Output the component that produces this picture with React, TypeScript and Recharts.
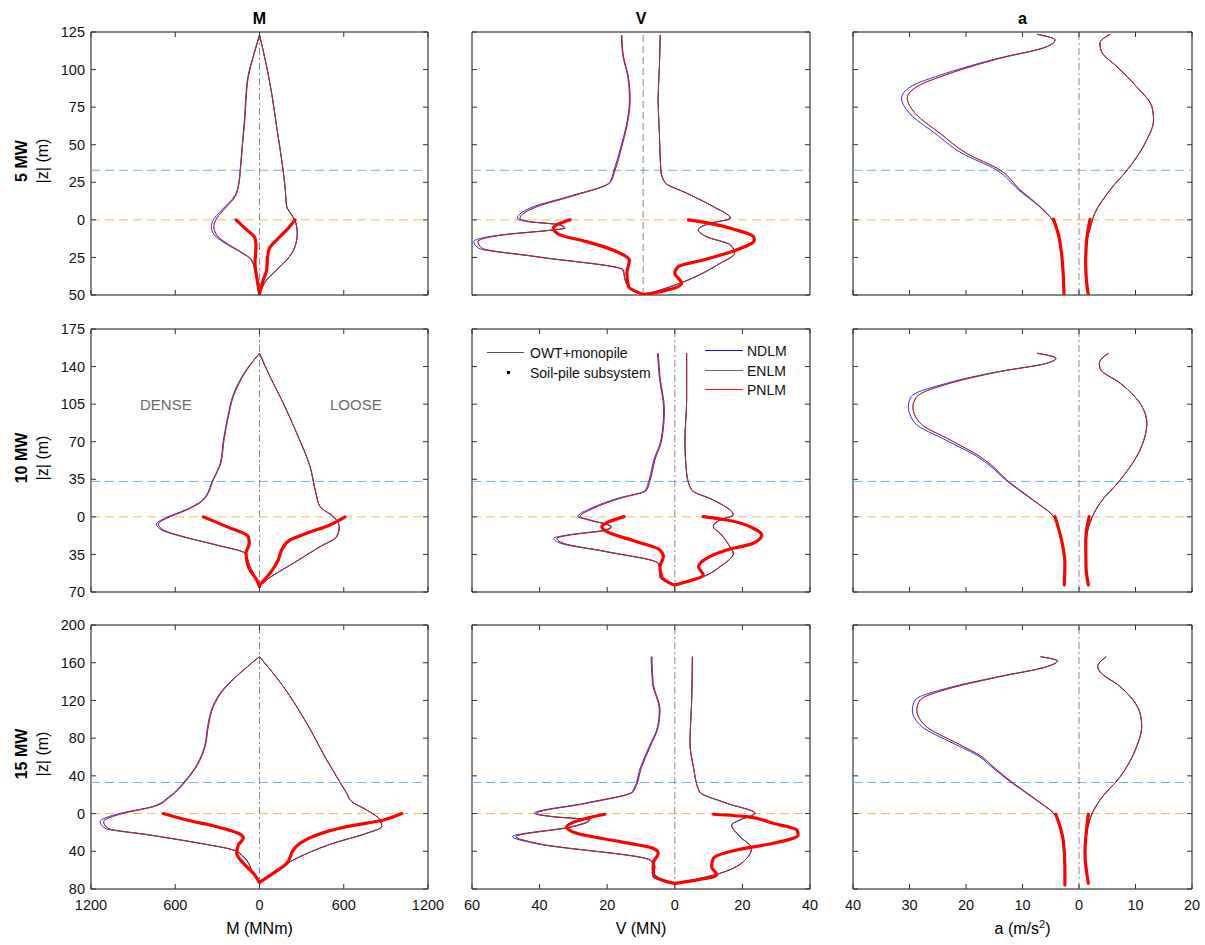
import React from "react";
import {
  ReferenceArea,
  ReferenceLine,
  Scatter,
  ScatterChart,
  XAxis,
  YAxis,
} from "recharts";

// Each profile is a list of [z (m), value] pairs, top of tower down to pile tip.
type Pt = [number, number];

// ---------- bending moment M (MNm) ----------
const m5Left: Pt[] = [[123, 0], [108.6, -44], [95.3, -80], [79.8, -96], [68.7, -103], [51, -120], [35.4, -134], [22, -151], [15.4, -174], [8.8, -234], [1, -305], [-4.5, -325], [-10, -306], [-15.6, -234], [-21, -139], [-26.7, -56], [-35, -30], [-43, -10], [-49, 0]];
const m5LeftN: Pt[] = [[123, 0], [108.6, -46], [95.3, -83], [79.8, -99], [68.7, -106], [51, -122], [35.4, -136], [22, -153], [15.4, -180], [8.8, -245], [1, -322], [-4.5, -343], [-10, -322], [-15.6, -244], [-21, -145], [-26.7, -58], [-35, -30], [-43, -10], [-49, 0]];
const m5Right: Pt[] = [[123, 0], [102, 51], [84, 87], [62, 122], [39.9, 158], [22, 182], [8.8, 194], [3.3, 229], [-2.3, 260], [-9, 269], [-17.8, 253], [-26.7, 194], [-33.3, 122], [-40, 51], [-48.6, 4]];
const m5SoilL: Pt[] = [[0, -167], [-6.7, -91], [-12.2, -32], [-17.8, -25], [-28.9, -32], [-37.8, -20], [-49, 0]];
const m5SoilR: Pt[] = [[0, 253], [-6.7, 194], [-13.4, 122], [-19, 70], [-24.5, 58], [-33.3, 51], [-40, 27], [-49, 0]];

const m10Left: Pt[] = [[152.4, 0], [136.8, -91], [112, -187], [93.3, -222], [71.6, -253], [49.9, -276], [34.4, -329], [15.7, -400], [6.4, -519], [-1.3, -661], [-6.6, -721], [-12.2, -685], [-18.4, -543], [-26.2, -305], [-33.9, -103], [-46.4, -68], [-58.8, -20], [-65, 0]];
const m10LeftN: Pt[] = [[152.4, 0], [136.8, -95], [112, -192], [93.3, -226], [71.6, -257], [49.9, -280], [34.4, -333], [15.7, -406], [6.4, -530], [-1.3, -675], [-6.6, -734], [-12.2, -698], [-18.4, -552], [-26.2, -310], [-33.9, -105], [-46.4, -68], [-58.8, -20], [-65, 0]];
const m10Right: Pt[] = [[152.4, 0], [130.6, 75], [105.8, 170], [77.9, 265], [46.8, 360], [22, 402], [9.5, 431], [0.2, 526], [-9.1, 568], [-18.4, 550], [-27.8, 431], [-43.2, 241], [-58.8, 51], [-65, 0]];
const m10SoilL: Pt[] = [[0, -400], [-9.1, -234], [-18.4, -80], [-24.6, -73], [-33.9, -96], [-46.4, -80], [-58.8, -20], [-65, 0]];
const m10SoilR: Pt[] = [[0, 609], [-7.5, 502], [-15.3, 336], [-21.5, 217], [-30.8, 158], [-40.1, 134], [-52.5, 75], [-63.4, 0]];

const m15Left: Pt[] = [[166.4, 0], [148.8, -139], [131.1, -258], [113.4, -329], [92.2, -365], [71, -388], [53.3, -436], [35.6, -519], [17.9, -637], [7.3, -756], [0.3, -970], [-8.6, -1110], [-15.6, -1080], [-22.7, -780], [-31.5, -424], [-38.6, -187], [-45.7, -115], [-63.3, -44], [-72.2, 0]];
const m15LeftN: Pt[] = [[166.4, 0], [148.8, -142], [131.1, -263], [113.4, -334], [92.2, -370], [71, -392], [53.3, -441], [35.6, -525], [17.9, -645], [7.3, -766], [0.3, -990], [-8.6, -1135], [-15.6, -1100], [-22.7, -790], [-31.5, -428], [-38.6, -188], [-45.7, -115], [-63.3, -44], [-72.2, 0]];
const m15Right: Pt[] = [[166.4, 0], [134.6, 170], [95.8, 336], [56.8, 479], [21.5, 621], [12.6, 657], [3.8, 763], [-6.8, 858], [-13.9, 870], [-20.9, 763], [-31.5, 526], [-45.7, 288], [-59.8, 122], [-72.2, 0]];
const m15SoilL: Pt[] = [[0, -685], [-6.8, -519], [-13.9, -305], [-20.9, -151], [-26.2, -115], [-33.3, -151], [-42.1, -162], [-52.7, -115], [-63.3, -44], [-73, 0]];
const m15SoilR: Pt[] = [[0, 1013], [-6.8, 882], [-13.9, 621], [-22.7, 407], [-31.5, 288], [-38.6, 241], [-52.7, 194], [-63.3, 98], [-73, 0]];

// ---------- shear force V (MN) ----------
const v5Left: Pt[] = [[123, -2.5], [108.6, -2.3], [95.3, -1.73], [79.8, -1.53], [62, -1.92], [48.7, -2.5], [33.2, -3.28], [24.8, -3.87], [15.4, -8.54], [8.8, -12.4], [1, -14.4], [-1.2, -13.2], [-3.4, -9.7], [-5.6, -9.3], [-6.7, -10.5], [-10, -16.3], [-14.5, -19.3], [-18.9, -18.8], [-24.5, -12.4], [-33.3, -2.3], [-40, -2.1], [-44.4, -1.7], [-49.8, 0]];
const v5LeftN: Pt[] = [[123, -2.55], [108.6, -2.35], [95.3, -1.8], [79.8, -1.6], [62, -2], [48.7, -2.6], [33.2, -3.4], [24.8, -3.95], [15.4, -8.8], [8.8, -12.8], [1, -14.7], [-1.2, -13.5], [-3.4, -9.6], [-5.6, -9.1], [-6.7, -10.6], [-10, -16.6], [-14.5, -19.8], [-18.9, -19.2], [-24.5, -12.6], [-33.3, -2.4], [-40, -2.1], [-44.4, -1.7], [-49.8, 0]];
const v5Right: Pt[] = [[123, 2], [102, 1.9], [79.8, 1.75], [57.6, 1.9], [33.2, 2.06], [24.8, 2.56], [17.7, 5.1], [8.8, 8.2], [1, 10.2], [-2.3, 7.8], [-6.7, 6.45], [-11.2, 7.4], [-16.7, 10.2], [-22.2, 10.7], [-28.9, 9], [-42.2, 4.3], [-49.8, 0.3]];
const v5SoilL: Pt[] = [[0, -8.54], [-5.6, -10.5], [-10, -9.7], [-14.5, -6.6], [-22.2, -2.7], [-26.7, -1.6], [-35.5, -1.9], [-44.4, -1.7], [-48.8, -0.4], [-49.8, 0]];
const v5SoilR: Pt[] = [[0, 5.3], [-2.3, 7.8], [-6.7, 10.9], [-11.2, 12.9], [-13.4, 13], [-20, 10.9], [-26.7, 7], [-31.1, 4.1], [-35.5, 3.7], [-42.2, 4.5], [-47.8, 2], [-49.8, 0]];

const v10Left: Pt[] = [[152.4, -4.9], [130.6, -4.4], [99.6, -3.1], [71.6, -3.9], [53, -5.9], [34.4, -7.3], [24.4, -8.5], [17.3, -16.2], [8, -24.1], [0.2, -28], [-2.9, -25.1], [-9.1, -18.7], [-12.2, -20.1], [-16.9, -31], [-19.9, -34.9], [-24.6, -33], [-32.4, -20.1], [-43.2, -4.9], [-49.5, -4.4], [-55.7, -4.4], [-63.4, -0.4]];
const v10LeftN: Pt[] = [[152.4, -5.1], [130.6, -4.6], [99.6, -3.3], [71.6, -4.1], [53, -6.2], [34.4, -7.6], [24.4, -8.8], [17.3, -16.8], [8, -24.8], [0.2, -28.7], [-2.9, -25.6], [-9.1, -19], [-12.2, -20.6], [-16.9, -31.8], [-19.9, -35.8], [-24.6, -33.8], [-32.4, -20.6], [-43.2, -5], [-49.5, -4.4], [-55.7, -4.4], [-63.4, -0.4]];
const v10Right: Pt[] = [[152.4, 3.5], [109, 3.5], [71.6, 3], [40.6, 3.5], [25, 5], [15.7, 11.4], [1.8, 17.3], [-2.9, 13.4], [-9.1, 11.4], [-15.3, 13.4], [-27.8, 16.3], [-33.9, 17.3], [-46.4, 13.4], [-55.7, 8.4], [-63.4, 0.6]];
const v10SoilL: Pt[] = [[0.2, -15], [-5.4, -20.1], [-9.1, -21.6], [-13.8, -20.1], [-23.1, -11.3], [-30.8, -4.4], [-37.1, -3.4], [-46.4, -4.4], [-55.7, -3.9], [-63.4, -0.4]];
const v10SoilR: Pt[] = [[0.2, 8.4], [-2.9, 15.4], [-10.6, 23.2], [-16.9, 25.7], [-24.6, 23.2], [-30.8, 15.4], [-38.6, 9.4], [-46.4, 7], [-54.1, 8.4], [-60.4, 3.5], [-63.4, 0]];

const v15Left: Pt[] = [[166.4, -6.8], [138.2, -6.4], [109.9, -4.4], [92.2, -4.9], [71, -7.3], [49.7, -9.8], [23.2, -12.3], [10.9, -26.1], [0.3, -40.9], [-3.3, -35.9], [-6.8, -25.1], [-13.9, -30], [-24.5, -47], [-31.5, -40.9], [-49.2, -7.3], [-56.3, -5.9], [-66.9, -6.4], [-73.9, -0.4]];
const v15LeftN: Pt[] = [[166.4, -7], [138.2, -6.6], [109.9, -4.6], [92.2, -5.1], [71, -7.6], [49.7, -10.1], [23.2, -12.6], [10.9, -26.8], [0.3, -41.6], [-3.3, -36.4], [-6.8, -25.4], [-13.9, -30.6], [-24.5, -48], [-31.5, -41.6], [-49.2, -7.5], [-56.3, -5.9], [-66.9, -6.4], [-73.9, -0.4]];
const v15Right: Pt[] = [[166.4, 5.2], [120.5, 5], [74.6, 4.5], [49.7, 5.5], [23.2, 7.3], [10.9, 15.4], [0.3, 23.7], [-6.8, 19.3], [-12.1, 16.8], [-24.5, 19.3], [-36.8, 22.7], [-47.4, 21.3], [-63.3, 13.4], [-73.9, 0.6]];
const v15SoilL: Pt[] = [[-0.7, -20.7], [-6.8, -28], [-13.9, -32], [-20.9, -29], [-29.8, -16.2], [-36.8, -6.4], [-42.1, -4.9], [-52.7, -6.4], [-63.3, -6.4], [-72.2, -2.4], [-74, 0]];
const v15SoilR: Pt[] = [[-0.7, 11.4], [-3.3, 21.3], [-10.3, 29.1], [-17.4, 36.1], [-22.7, 36.5], [-31.5, 29.1], [-38.6, 18.3], [-47.4, 11.4], [-56.3, 10.9], [-65.1, 12.4], [-72.2, 3.5], [-74, 0]];

// ---------- acceleration a (m/s2) ----------
const a5Left: Pt[] = [[123.5, -7.4], [119.7, -4.25], [115.2, -5.7], [107.5, -14], [97.5, -22.8], [88.6, -28.7], [80.9, -30.4], [70.9, -29], [57.6, -24.6], [44.3, -19.9], [33.2, -14], [19.9, -10.4], [8.8, -6.9], [0.4, -4.8], [-8.9, -3.8], [-22.2, -3.1], [-35.5, -2.8], [-49.8, -2.65]];
const a5LeftN: Pt[] = [[123.5, -7.4], [119.7, -4.25], [115.2, -5.7], [107.5, -14.3], [97.5, -23.6], [88.6, -29.8], [80.9, -31.4], [70.9, -30], [57.6, -25.5], [44.3, -20.7], [33.2, -14.6], [19.9, -10.7], [8.8, -7], [0.4, -4.8], [-8.9, -3.8], [-22.2, -3.1], [-35.5, -2.8], [-49.8, -2.65]];
const a5Right: Pt[] = [[123.5, 5.5], [117.5, 3.7], [111.9, 4], [102, 6.7], [88.6, 10.2], [75.3, 12.9], [66.5, 13.2], [53.2, 12], [35.4, 9], [19.9, 5.5], [4.4, 2.8], [-6.7, 1.9], [-13.4, 1.4], [-28.9, 1.2], [-42.2, 1.36], [-49.8, 1.65]];
const a5SoilL: Pt[] = [[0.4, -4.5], [-8.9, -3.7], [-22.2, -3.1], [-35.5, -2.8], [-49.8, -2.65]];
const a5SoilR: Pt[] = [[0.4, 1.95], [-13.4, 1.36], [-28.9, 1.18], [-42.2, 1.36], [-49.8, 1.65]];

const a10Left: Pt[] = [[152.4, -7.4], [147.7, -4.1], [143.1, -5.7], [135.3, -14], [124.5, -22.8], [112, -28.7], [102.7, -29.4], [87.2, -28.1], [71.6, -22.8], [56.1, -17.5], [46.8, -15.2], [34.4, -12.8], [15.7, -8.1], [0.2, -4.5], [-21.5, -3.1], [-43.2, -2.5], [-63.4, -2.6]];
const a10LeftN: Pt[] = [[152.4, -7.4], [147.7, -4.1], [143.1, -5.7], [135.3, -14.3], [124.5, -23.4], [112, -29.7], [102.7, -30.2], [87.2, -29], [71.6, -23.6], [56.1, -18], [46.8, -15.6], [34.4, -13], [15.7, -8.2], [0.2, -4.5], [-21.5, -3.1], [-43.2, -2.5], [-63.4, -2.6]];
const a10Right: Pt[] = [[152.4, 5.2], [143.1, 3.6], [138.4, 3.7], [124.5, 7.3], [105.8, 10.8], [87.2, 12], [62.3, 10.8], [34.4, 7.3], [12.7, 3.7], [-6, 1.9], [-21.5, 1.3], [-46.4, 1.24], [-63.4, 1.65]];
const a10SoilL: Pt[] = [[0.2, -4.25], [-21.5, -3.1], [-43.2, -2.5], [-63.4, -2.6]];
const a10SoilR: Pt[] = [[0.2, 1.8], [-21.5, 1.2], [-46.4, 1.24], [-63.4, 1.65]];

const a15Left: Pt[] = [[166.4, -6.8], [161.8, -3.8], [155.8, -5.7], [145.2, -14], [132.9, -22.8], [120.5, -28.1], [109.9, -28.7], [92.2, -27], [74.6, -21.6], [60.3, -17.2], [49.7, -15.2], [32.1, -11.6], [14.4, -7.5], [-1.5, -4.25], [-28, -2.8], [-56.3, -2.5], [-75.7, -2.5]];
const a15LeftN: Pt[] = [[166.4, -6.8], [161.8, -3.8], [155.8, -5.7], [145.2, -14.3], [132.9, -23.4], [120.5, -29], [109.9, -29.5], [92.2, -27.8], [74.6, -22.3], [60.3, -17.6], [49.7, -15.5], [32.1, -11.8], [14.4, -7.6], [-1.5, -4.25], [-28, -2.8], [-56.3, -2.5], [-75.7, -2.5]];
const a15Right: Pt[] = [[166.4, 4.8], [155.8, 3.3], [150.5, 3.7], [134.6, 7.3], [106.4, 10.8], [92.2, 11.1], [71, 10.2], [39.1, 7.3], [14.4, 3.7], [-6.8, 1.9], [-42.1, 1.06], [-73.9, 1.65]];
const a15SoilL: Pt[] = [[-0.7, -4.1], [-28, -2.8], [-56.3, -2.5], [-75.7, -2.5]];
const a15SoilR: Pt[] = [[-0.7, 1.65], [-42.1, 1.06], [-73.9, 1.65]];

// ---------- axes ----------
const zDomains: [number, number][] = [[-50, 125], [-70, 175], [-80, 200]];
const zTicks = [
  [-50, -25, 0, 25, 50, 75, 100, 125],
  [-70, -35, 0, 35, 70, 105, 140, 175],
  [-80, -40, 0, 40, 80, 120, 160, 200],
];
const mDomain: [number, number] = [-1200, 1200];
const mTicks = [-1200, -600, 0, 600, 1200];
const vDomain: [number, number] = [-60, 40];
const vDomainTop: [number, number] = [-20, 19.5];
const vTicks = [-60, -40, -20, 0, 20, 40];
const aDomain: [number, number] = [-40, 20];
const aTicks = [-40, -30, -20, -10, 0, 10, 20];
const waterLevel = 33;

const rowNames = ["5 MW", "10 MW", "15 MW"];
const colNames = ["M", "V", "a"];

// ---------- layout ----------
const FONT = '"Liberation Sans", Arial, Helvetica, sans-serif';
const colLeft = [91, 472, 853];
const colWidth = [337, 338, 339];
const rowTop = [32, 329, 625];
const rowHeight = [263, 263, 264];
const Y_AXIS_W = 60;
const X_AXIS_H = 35;
const RIGHT_PAD = 30;
const X_MARGIN = 11;
const Y_MARGIN = 6;
const TICK = 5;

const NDLM = "#2b2bff";
const ENLM = "#555555";
const PNLM = "#e0101c";
const SOIL = "#ff0000";

const toXY = (pts: Pt[]) => pts.map(([z, v]) => ({ x: v, y: z }));
const noMark = () => <g />;

function makeXTick(plotH: number, showLabel: boolean) {
  return (props: any) => {
    const { x, y, payload } = props;
    const base = y - X_MARGIN;
    return (
      <g>
        <line x1={x} y1={base} x2={x} y2={base - TICK} stroke="#333" />
        <line x1={x} y1={base - plotH} x2={x} y2={base - plotH + TICK} stroke="#333" />
        {showLabel && (
          <text x={x} y={y} dy="0.71em" textAnchor="middle" fontSize={14.5} fontFamily={FONT} fill="#111">
            {Math.abs(payload.value)}
          </text>
        )}
      </g>
    );
  };
}

function makeYTick(plotW: number, showLabel: boolean) {
  return (props: any) => {
    const { x, y, payload } = props;
    const base = x + Y_MARGIN;
    return (
      <g>
        <line x1={base} y1={y} x2={base + TICK} y2={y} stroke="#333" />
        <line x1={base + plotW} y1={y} x2={base + plotW - TICK} y2={y} stroke="#333" />
        {showLabel && (
          <text x={x} y={y} dy="0.355em" textAnchor="end" fontSize={14.5} fontFamily={FONT} fill="#111">
            {Math.abs(payload.value)}
          </text>
        )}
      </g>
    );
  };
}

type Profiles = { left: Pt[]; leftN: Pt[]; right: Pt[]; soilL: Pt[]; soilR: Pt[] };

function Panel({
  row,
  col,
  p,
  xDomain,
  xTicks,
  centerDash,
}: {
  row: number;
  col: number;
  p: Profiles;
  xDomain: [number, number];
  xTicks: number[] | null;
  centerDash: string;
}) {
  const fw = colWidth[col];
  const fh = rowHeight[row];
  const zDomain = zDomains[row];
  const thin = (pts: Pt[], color: string, opacity = 1) => (
    <Scatter
      data={toXY(pts)}
      line={{ stroke: color, strokeWidth: 1, strokeOpacity: opacity }}
      lineJointType="monotoneY"
      shape={noMark}
      isAnimationActive={false}
    />
  );
  const thick = (pts: Pt[]) => (
    <Scatter
      data={toXY(pts)}
      line={{ stroke: SOIL, strokeWidth: 3.2, strokeLinecap: "round", strokeLinejoin: "round" }}
      lineJointType="monotoneY"
      shape={noMark}
      isAnimationActive={false}
    />
  );
  return (
    <div style={{ position: "absolute", left: colLeft[col] - Y_AXIS_W, top: rowTop[row] - 10 }}>
      <ScatterChart
        width={fw + Y_AXIS_W + RIGHT_PAD}
        height={fh + 10 + X_AXIS_H}
        margin={{ top: 10, right: RIGHT_PAD, left: 0, bottom: 0 }}
      >
        <XAxis
          type="number"
          dataKey="x"
          domain={xDomain}
          ticks={xTicks ?? undefined}
          interval={0}
          allowDataOverflow
          axisLine={false}
          tickLine={false}
          tickSize={0}
          tickMargin={X_MARGIN}
          height={X_AXIS_H}
          tick={xTicks ? makeXTick(fh, row === 2) : false}
        />
        <YAxis
          type="number"
          dataKey="y"
          domain={zDomain}
          ticks={zTicks[row]}
          interval={0}
          allowDataOverflow
          axisLine={false}
          tickLine={false}
          tickSize={0}
          tickMargin={Y_MARGIN}
          width={Y_AXIS_W}
          tick={makeYTick(fw, col === 0)}
        />
        <ReferenceLine y={waterLevel} stroke="#6fb2e6" strokeDasharray="9 5" strokeWidth={1} />
        <ReferenceLine y={0} stroke="#f2bd58" strokeDasharray="9 5" strokeWidth={1} />
        <ReferenceLine x={0} stroke="#8a8a8a" strokeDasharray={centerDash} strokeWidth={1} />
        {thin(p.leftN, NDLM)}
        {thin(p.right, NDLM)}
        {thin(p.left, ENLM)}
        {thin(p.right, ENLM)}
        {thin(p.left, PNLM, 0.75)}
        {thin(p.right, PNLM, 0.75)}
        {thick(p.soilL)}
        {thick(p.soilR)}
        <ReferenceArea
          x1={xDomain[0]}
          x2={xDomain[1]}
          y1={zDomain[0]}
          y2={zDomain[1]}
          fill="none"
          fillOpacity={0}
          stroke="#111"
          strokeWidth={1}
        />
      </ScatterChart>
    </div>
  );
}

const mRows: Profiles[] = [
  { left: m5Left, leftN: m5LeftN, right: m5Right, soilL: m5SoilL, soilR: m5SoilR },
  { left: m10Left, leftN: m10LeftN, right: m10Right, soilL: m10SoilL, soilR: m10SoilR },
  { left: m15Left, leftN: m15LeftN, right: m15Right, soilL: m15SoilL, soilR: m15SoilR },
];
const vRows: Profiles[] = [
  { left: v5Left, leftN: v5LeftN, right: v5Right, soilL: v5SoilL, soilR: v5SoilR },
  { left: v10Left, leftN: v10LeftN, right: v10Right, soilL: v10SoilL, soilR: v10SoilR },
  { left: v15Left, leftN: v15LeftN, right: v15Right, soilL: v15SoilL, soilR: v15SoilR },
];
const aRows: Profiles[] = [
  { left: a5Left, leftN: a5LeftN, right: a5Right, soilL: a5SoilL, soilR: a5SoilR },
  { left: a10Left, leftN: a10LeftN, right: a10Right, soilL: a10SoilL, soilR: a10SoilR },
  { left: a15Left, leftN: a15LeftN, right: a15Right, soilL: a15SoilL, soilR: a15SoilR },
];

const abs: React.CSSProperties = { position: "absolute", fontFamily: FONT, whiteSpace: "nowrap" };

function LegendLine({ x, y, w, color }: { x: number; y: number; w: number; color: string }) {
  return <div style={{ position: "absolute", left: x, top: y, width: w, height: 0, borderTop: `1.2px solid ${color}` }} />;
}

function LegendText({ x, y, text }: { x: number; y: number; text: string }) {
  return (
    <div style={{ ...abs, left: x, top: y - 9, fontSize: 14, lineHeight: "18px", color: "#111" }}>{text}</div>
  );
}

export default function App() {
  const centers = colLeft.map((l, i) => l + colWidth[i] / 2);
  return (
    <div style={{ position: "absolute", left: 0, top: 0, width: 1205, height: 945, background: "#fff", overflow: "hidden" }}>
      {[0, 1, 2].map((r) => (
        <React.Fragment key={r}>
          <Panel row={r} col={0} p={mRows[r]} xDomain={mDomain} xTicks={mTicks} centerDash="7 3 2 3" />
          <Panel
            row={r}
            col={1}
            p={vRows[r]}
            xDomain={r === 0 ? vDomainTop : vDomain}
            xTicks={r === 0 ? null : vTicks}
            centerDash={r === 0 ? "7 4" : "7 3 2 3"}
          />
          <Panel row={r} col={2} p={aRows[r]} xDomain={aDomain} xTicks={aTicks} centerDash="7 3 2 3" />
        </React.Fragment>
      ))}

      {/* column titles */}
      {colNames.map((n, i) => (
        <div key={n} style={{ ...abs, left: centers[i] - 40, width: 80, top: 9, textAlign: "center", fontSize: 16, fontWeight: 700, lineHeight: "20px" }}>
          {n}
        </div>
      ))}

      {/* row titles */}
      {rowNames.map((n, r) => {
        const cy = rowTop[r] + rowHeight[r] / 2 - 3;
        return (
          <React.Fragment key={n}>
            <div style={{ ...abs, left: 22, top: cy, transform: "translate(-50%, -50%) rotate(-90deg)", fontSize: 16, fontWeight: 700 }}>{n}</div>
            <div style={{ ...abs, left: 43, top: cy, transform: "translate(-50%, -50%) rotate(-90deg)", fontSize: 16 }}>|z| (m)</div>
          </React.Fragment>
        );
      })}

      {/* axis titles */}
      <div style={{ ...abs, left: centers[0] - 60, width: 120, top: 919, textAlign: "center", fontSize: 16, lineHeight: "20px" }}>M (MNm)</div>
      <div style={{ ...abs, left: centers[1] - 60, width: 120, top: 919, textAlign: "center", fontSize: 16, lineHeight: "20px" }}>V (MN)</div>
      <div style={{ ...abs, left: centers[2] - 60, width: 120, top: 919, textAlign: "center", fontSize: 16, lineHeight: "20px" }}>
        a (m/s<sup style={{ fontSize: 11, lineHeight: 0 }}>2</sup>)
      </div>

      {/* soil annotations */}
      <div style={{ ...abs, left: 140, top: 396, fontSize: 15, color: "#6a6a6a" }}>DENSE</div>
      <div style={{ ...abs, left: 330, top: 396, fontSize: 15, color: "#6a6a6a" }}>LOOSE</div>

      {/* legends */}
      <LegendLine x={487} y={352} w={37} color="#555" />
      <LegendText x={530} y={353} text="OWT+monopile" />
      <div style={{ position: "absolute", left: 507, top: 371, width: 3, height: 3, background: "#000" }} />
      <LegendText x={530} y={373} text="Soil-pile subsystem" />
      <LegendLine x={705} y={350} w={38} color="#1010ff" />
      <LegendText x={747} y={351} text="NDLM" />
      <LegendLine x={705} y={370} w={38} color="#666" />
      <LegendText x={747} y={371} text="ENLM" />
      <LegendLine x={705} y={389} w={38} color="#ff1010" />
      <LegendText x={747} y={390} text="PNLM" />
    </div>
  );
}
